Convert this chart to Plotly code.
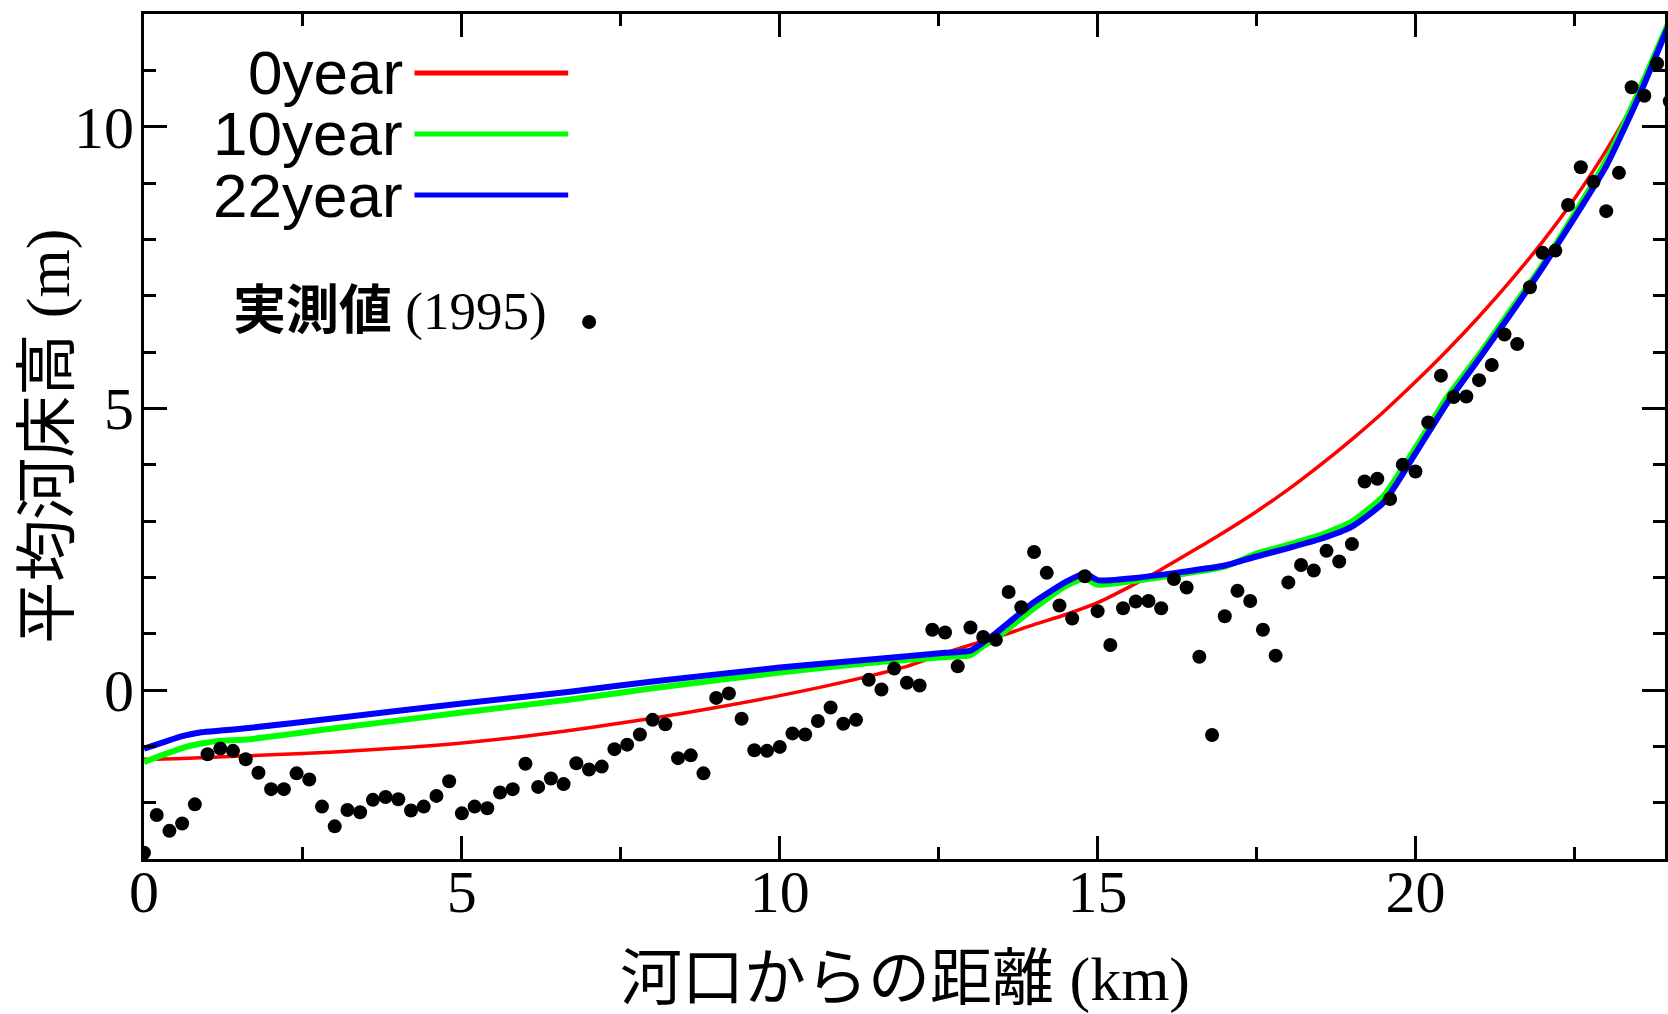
import plotly.graph_objects as go

# Observed mean bed elevation (1995 survey), distance from the river mouth in km
obs_km = [0.0, 0.2, 0.4, 0.6, 0.8, 1.0, 1.2, 1.4, 1.6, 1.8,
          2.0, 2.2, 2.4, 2.6, 2.8, 3.0, 3.2, 3.4, 3.6, 3.8,
          4.0, 4.2, 4.4, 4.6, 4.8, 5.0, 5.2, 5.4, 5.6, 5.8,
          6.0, 6.2, 6.4, 6.6, 6.8, 7.0, 7.2, 7.4, 7.6, 7.8,
          8.0, 8.2, 8.4, 8.6, 8.8, 9.0, 9.2, 9.4, 9.6, 9.8,
          10.0, 10.2, 10.4, 10.6, 10.8, 11.0, 11.2, 11.4, 11.6, 11.8,
          12.0, 12.2, 12.4, 12.6, 12.8, 13.0, 13.2, 13.4, 13.6, 13.8,
          14.0, 14.2, 14.4, 14.6, 14.8, 15.0, 15.2, 15.4, 15.6, 15.8,
          16.0, 16.2, 16.4, 16.6, 16.8, 17.0, 17.2, 17.4, 17.6, 17.8,
          18.0, 18.2, 18.4, 18.6, 18.8, 19.0, 19.2, 19.4, 19.6, 19.8,
          20.0, 20.2, 20.4, 20.6, 20.8, 21.0, 21.2, 21.4, 21.6, 21.8,
          22.0, 22.2, 22.4, 22.6, 22.8, 23.0, 23.2, 23.4, 23.6, 23.8,
          24.0]
obs_z = [-2.89, -2.22, -2.50, -2.37, -2.03, -1.14, -1.04, -1.08, -1.23, -1.47,
         -1.76, -1.76, -1.48, -1.59, -2.07, -2.42, -2.13, -2.17, -1.95, -1.90,
         -1.94, -2.14, -2.07, -1.88, -1.62, -2.19, -2.07, -2.10, -1.82, -1.76,
         -1.31, -1.72, -1.57, -1.67, -1.30, -1.41, -1.36, -1.05, -0.97, -0.79,
         -0.53, -0.61, -1.21, -1.16, -1.48, -0.14, -0.06, -0.51, -1.07, -1.08,
         -1.01, -0.77, -0.79, -0.55, -0.31, -0.60, -0.53, 0.18, 0.01, 0.38,
         0.13, 0.08, 1.07, 1.02, 0.42, 1.11, 0.94, 0.89, 1.74, 1.47,
         2.45, 2.08, 1.50, 1.27, 2.02, 1.40, 0.80, 1.45, 1.57, 1.58,
         1.45, 1.97, 1.82, 0.59, -0.80, 1.31, 1.76, 1.58, 1.07, 0.61,
         1.91, 2.22, 2.12, 2.47, 2.28, 2.59, 3.70, 3.75, 3.39, 4.00,
         3.88, 4.75, 5.58, 5.20, 5.21, 5.50, 5.77, 6.31, 6.14, 7.15,
         7.76, 7.80, 8.61, 9.28, 9.02, 8.50, 9.18, 10.70, 10.55, 11.12,
         10.45]

# Computed bed profiles
y0_km = [0, 0.5, 1, 2, 3, 4, 5, 6, 7, 8, 9, 10, 11, 12, 12.5, 13, 13.5, 14,
         14.5, 15, 15.5, 16, 16.5, 17, 17.5, 18, 18.5, 19, 19.5, 20, 20.5,
         21, 21.5, 22, 22.5, 23, 23.5, 24]
y0_z = [-1.23, -1.22, -1.20, -1.15, -1.10, -1.03, -0.94, -0.82, -0.67, -0.50,
        -0.31, -0.10, 0.14, 0.42, 0.62, 0.80, 0.97, 1.16, 1.34, 1.55, 1.83,
        2.14, 2.47, 2.81, 3.17, 3.56, 3.99, 4.45, 4.94, 5.47, 6.03, 6.63,
        7.27, 7.96, 8.72, 9.58, 10.58, 11.85]

y10_km = [0, 0.3, 0.6, 0.9, 1.2, 1.6, 3, 5, 6.7, 8, 10, 11.6, 12.8, 13.0,
          13.2, 13.4, 14.0, 14.5, 14.8, 15.0, 15.6, 17.0, 17.5, 18.0, 18.5,
          19.0, 19.5, 20.0, 20.5, 21.0, 21.5, 22.0, 22.5, 23.0, 23.5, 24.0]
y10_z = [-1.28, -1.15, -1.03, -0.95, -0.90, -0.88, -0.68, -0.40, -0.17, 0.03,
         0.31, 0.50, 0.60, 0.62, 0.78, 0.92, 1.45, 1.85, 1.98, 1.87, 1.94,
         2.19, 2.42, 2.58, 2.75, 2.99, 3.45, 4.30, 5.20, 5.95, 6.75, 7.55,
         8.45, 9.40, 10.60, 11.90]

y22_km = [0, 0.3, 0.6, 0.9, 1.2, 1.6, 3, 5, 6.7, 8, 10, 11.6, 12.6, 13.0,
          13.4, 14.0, 14.5, 14.8, 15.0, 15.6, 17.0, 17.5, 18.0, 18.5, 19.0,
          19.5, 20.0, 20.5, 21.0, 21.5, 22.0, 22.5, 23.0, 23.5, 24.0]
y22_z = [-1.04, -0.93, -0.82, -0.75, -0.72, -0.68, -0.50, -0.24, -0.03, 0.15,
         0.40, 0.56, 0.66, 0.70, 1.01, 1.56, 1.92, 2.07, 1.95, 1.99, 2.21,
         2.37, 2.52, 2.68, 2.90, 3.33, 4.20, 5.10, 5.88, 6.68, 7.50, 8.38,
         9.30, 10.50, 11.85]

series_names = ["0year", "10year", "22year"]
series_colors = ["#ff0000", "#00ff00", "#0000ff"]

W, H = 1668, 1014
ML, MR, MT, MB = 144, 0, 14, 155
PW, PH = W - ML - MR, H - MT - MB


def px_x(p):
    return (p - ML) / PW


def px_y(p):
    return (H - MB - p) / PH


fig = go.Figure()
fig.add_trace(go.Scatter(x=y0_km, y=y0_z, mode="lines",
                         line=dict(color=series_colors[0], width=3.5,
                                   shape="spline", smoothing=0.8)))
fig.add_trace(go.Scatter(x=y10_km, y=y10_z, mode="lines",
                         line=dict(color=series_colors[1], width=6,
                                   shape="spline", smoothing=0.5)))
fig.add_trace(go.Scatter(x=y22_km, y=y22_z, mode="lines",
                         line=dict(color=series_colors[2], width=6,
                                   shape="spline", smoothing=0.5)))
fig.add_trace(go.Scatter(x=obs_km, y=obs_z, mode="markers",
                         marker=dict(color="black", size=14)))

axis_common = dict(
    showline=True, linecolor="black", linewidth=3, mirror="ticks",
    ticks="inside", tickcolor="black", tickwidth=2.5, ticklen=23,
    showgrid=False, zeroline=False,
    tickfont=dict(family="Liberation Serif", size=60, color="black"),
)

fig.update_xaxes(range=[0, PW / 63.7], tickvals=[0, 5, 10, 15, 20],
                 minor=dict(ticks="inside", ticklen=12, tickwidth=2.5,
                            tickcolor="black", dtick=2.5, tick0=0),
                 ticklabelstandoff=-22,
                 **axis_common)
fig.update_yaxes(range=[-3, 12], tickvals=[0, 5, 10],
                 minor=dict(ticks="inside", ticklen=12, tickwidth=2.5,
                            tickcolor="black", dtick=1, tick0=0),
                 ticklabelstandoff=-5,
                 **axis_common)

title_font = dict(family="Liberation Serif, Noto Sans CJK JP", size=62, color="black")
annotations = [
    dict(text="河口からの距離 (km)", xref="paper", yref="paper",
         x=0.5, y=px_y(979), xanchor="center", yanchor="middle",
         showarrow=False, font=title_font),
    dict(text="平均河床高 (m)", xref="paper", yref="paper",
         x=px_x(48), y=0.5, xanchor="center", yanchor="middle",
         textangle=-90, showarrow=False, font=title_font),
]

shapes = []
legend_y = [73, 134, 195]
for name, color, ly in zip(series_names, series_colors, legend_y):
    annotations.append(dict(
        text=name, xref="paper", yref="paper", x=px_x(406), y=px_y(ly),
        xanchor="right", yanchor="middle", showarrow=False,
        font=dict(family="Liberation Sans", size=62, color="black")))
    shapes.append(dict(
        type="line", xref="paper", yref="paper",
        x0=px_x(415), x1=px_x(569), y0=px_y(ly), y1=px_y(ly),
        line=dict(color=color, width=5)))

annotations.append(dict(
    text="<b>実測値</b> (1995)", xref="paper", yref="paper",
    x=px_x(550), y=px_y(311), xanchor="right", yanchor="middle",
    showarrow=False,
    font=dict(family="Liberation Serif, Noto Sans CJK JP", size=53, color="black")))
shapes.append(dict(
    type="circle", xref="paper", yref="paper",
    xsizemode="pixel", ysizemode="pixel",
    xanchor=px_x(590), yanchor=px_y(322),
    x0=-7, x1=7, y0=-7, y1=7,
    fillcolor="black", line=dict(width=0)))

fig.update_layout(
    width=W, height=H,
    margin=dict(l=ML, r=MR, t=MT, b=MB, pad=0),
    paper_bgcolor="white", plot_bgcolor="white",
    showlegend=False,
    annotations=annotations, shapes=shapes,
)

fig.write_html("out.html")
